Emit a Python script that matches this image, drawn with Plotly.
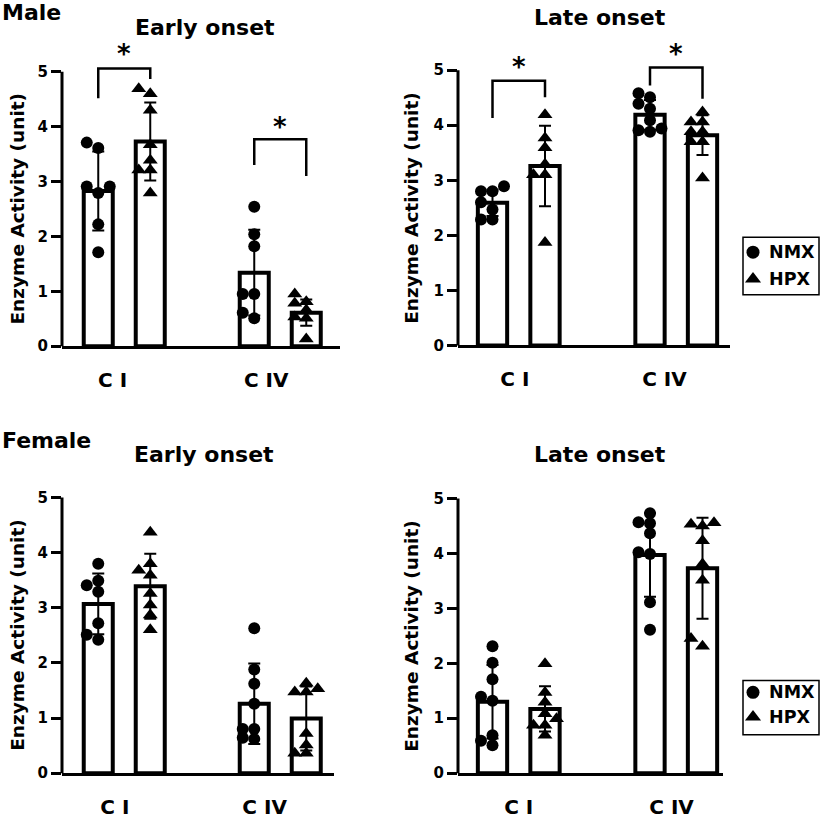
import plotly.graph_objects as go

# ---------------- data ----------------
categories = ["C I", "C IV"]
groups = ["NMX", "HPX"]

# Male, early onset
male_early_nmx_ci = [3.71, 3.61, 2.91, 2.91, 2.79, 2.22, 1.71]
male_early_hpx_ci = [4.60, 4.69, 4.30, 3.67, 3.39, 3.21, 3.21, 2.79]
male_early_nmx_civ = [2.54, 2.04, 1.82, 0.95, 0.95, 0.61, 0.51]
male_early_hpx_civ = [0.95, 0.78, 0.81, 0.66, 0.53, 0.51, 0.13]
male_early_nmx_mean = [2.83, 1.34]
male_early_nmx_sd = [0.72, 0.78]
male_early_hpx_mean = [3.73, 0.61]
male_early_hpx_sd = [0.71, 0.24]

# Male, late onset
male_late_nmx_ci = [2.89, 2.80, 2.80, 2.60, 2.47, 2.29, 2.29]
male_late_hpx_ci = [4.19, 3.77, 3.59, 3.29, 3.10, 3.10, 1.87]
male_late_nmx_civ = [4.51, 4.58, 4.39, 4.30, 4.09, 3.88, 3.91, 3.94]
male_late_hpx_civ = [4.24, 4.06, 4.06, 3.88, 3.88, 3.70, 3.70, 3.04]
male_late_nmx_mean = [2.59, 4.19]
male_late_nmx_sd = [0.24, 0.27]
male_late_hpx_mean = [3.26, 3.82]
male_late_hpx_sd = [0.73, 0.36]

# Female, early onset
female_early_nmx_ci = [3.80, 3.49, 3.41, 3.29, 2.72, 2.51, 2.42]
female_early_hpx_ci = [4.37, 3.80, 3.68, 3.59, 3.26, 3.05, 2.87, 2.60]
female_early_nmx_civ = [2.63, 1.88, 1.62, 1.26, 0.80, 0.80, 0.64, 0.62]
female_early_hpx_civ = [1.63, 1.53, 1.47, 1.47, 0.72, 0.51, 0.36, 0.36]
female_early_nmx_mean = [3.07, 1.26]
female_early_nmx_sd = [0.55, 0.73]
female_early_hpx_mean = [3.39, 0.99]
female_early_hpx_sd = [0.59, 0.58]

# Female, late onset
female_late_nmx_ci = [2.31, 2.01, 1.71, 1.39, 1.32, 0.69, 0.59, 0.51]
female_late_hpx_ci = [1.99, 1.47, 1.29, 1.08, 0.99, 0.87, 0.87, 0.69]
female_late_nmx_civ = [4.73, 4.57, 4.55, 4.37, 4.02, 3.99, 3.11, 2.61]
female_late_hpx_civ = [4.56, 4.53, 4.50, 4.23, 3.81, 3.51, 2.45, 2.31]
female_late_nmx_mean = [1.30, 3.97]
female_late_nmx_sd = [0.67, 0.76]
female_late_hpx_mean = [1.17, 3.73]
female_late_hpx_sd = [0.41, 0.92]

y_ticks = [0, 1, 2, 3, 4, 5]
y_title = "Enzyme Activity (unit)"

# ---------------- layout geometry ----------------
W, H = 827, 822
FONT = "DejaVu Sans"
YMAX = 5.8
OFF = 1 / 6          # half distance between the two bars of a group
BAR_W = 0.186

panels = [
    dict(title="Early onset", axis_px=62, ci_px=124.25, ppx=156, y0=350, ppy=55.47, end_px=340,
         title_xy=(205, 28), ytitle_x=17.5, tickvals=[-0.075, 0.91],
         pts=[[male_early_nmx_ci, male_early_nmx_civ], [male_early_hpx_ci, male_early_hpx_civ]],
         mean=[male_early_nmx_mean, male_early_hpx_mean], sd=[male_early_nmx_sd, male_early_hpx_sd],
         brackets=[(0, 4.52, 5.06, 4.87, 5.41), (1, 3.30, 3.77, 3.10, 4.09)]),
    dict(title="Late onset", axis_px=458, ci_px=518.75, ppx=157.5, y0=349.3, ppy=55.67, end_px=730,
         title_xy=(600, 18), ytitle_x=412, tickvals=[-0.025, 0.925],
         pts=[[male_late_nmx_ci, male_late_nmx_civ], [male_late_hpx_ci, male_late_hpx_civ]],
         mean=[male_late_nmx_mean, male_late_hpx_mean], sd=[male_late_nmx_sd, male_late_hpx_sd],
         brackets=[(0, 4.13, 4.81, 4.51, 5.15), (1, 4.72, 5.05, 4.48, 5.38)]),
    dict(title="Early onset", axis_px=62, ci_px=124.25, ppx=156, y0=781.7, ppy=55.73, end_px=334,
         title_xy=(204, 460), ytitle_x=17.5, tickvals=[-0.06, 0.9],
         pts=[[female_early_nmx_ci, female_early_nmx_civ], [female_early_hpx_ci, female_early_hpx_civ]],
         mean=[female_early_nmx_mean, female_early_hpx_mean], sd=[female_early_nmx_sd, female_early_hpx_sd],
         brackets=[]),
    dict(title="Late onset", axis_px=458, ci_px=518.75, ppx=157.5, y0=781.7, ppy=55.53, end_px=723,
         title_xy=(600, 460), ytitle_x=412, tickvals=[0.0, 0.97],
         pts=[[female_late_nmx_ci, female_late_nmx_civ], [female_late_hpx_ci, female_late_hpx_civ]],
         mean=[female_late_nmx_mean, female_late_hpx_mean], sd=[female_late_nmx_sd, female_late_hpx_sd],
         brackets=[]),
]

symbols = ["circle", "triangle-up"]
msizes = [12, 13]


def swarm(values, ppx, ppy, step=11.5, diam=8.0):
    order = sorted(range(len(values)), key=lambda i: values[i])
    placed = []
    offs = [0.0] * len(values)
    cands = [0.0]
    for j in range(1, 6):
        cands += [-j * step, j * step]
    for i in order:
        y = values[i] * ppy
        for c in cands:
            if all((c - px) ** 2 + (y - py) ** 2 >= diam ** 2 for px, py in placed):
                offs[i] = c / ppx
                placed.append((c, y))
                break
    return offs


fig = go.Figure()
annotations = []
shapes = []
layout_axes = {}

for k, p in enumerate(panels):
    n = "" if k == 0 else str(k + 1)
    xa, ya = "x" + n, "y" + n
    xr = [(p["axis_px"] - p["ci_px"]) / p["ppx"], (p["end_px"] - p["ci_px"]) / p["ppx"]]
    top_px = p["y0"] - YMAX * p["ppy"]
    layout_axes["xaxis" + n] = dict(
        domain=[p["axis_px"] / W, p["end_px"] / W], range=xr, anchor=ya,
        showline=True, linewidth=3, linecolor="black", ticks="",
        tickmode="array", tickvals=p["tickvals"], ticktext=categories,
        tickfont=dict(family=FONT, size=20, color="black", weight="bold"),
        ticklabelstandoff=14, showgrid=False, zeroline=False, fixedrange=True)
    layout_axes["yaxis" + n] = dict(
        domain=[1 - p["y0"] / H, 1 - top_px / H], range=[0, YMAX], anchor=xa,
        showline=False, ticks="outside", ticklen=10, tickwidth=3, tickcolor="black",
        tickmode="array", tickvals=y_ticks,
        tickfont=dict(family=FONT, size=15, color="black", weight="bold"),
        showgrid=False, zeroline=False, fixedrange=True)

    # y axis line (0..5 only)
    shapes.append(dict(type="line", xref=xa + " domain", yref=ya + " domain",
                       x0=0, x1=0, y0=0, y1=5 / YMAX, line=dict(color="black", width=3)))

    # bars with SD error bars
    for g in range(2):
        xs = [c - OFF if g == 0 else c + OFF for c in range(len(categories))]
        fig.add_trace(go.Bar(
            x=xs, y=p["mean"][g], width=BAR_W, xaxis=xa, yaxis=ya,
            marker=dict(color="white", line=dict(color="black", width=4)),
            error_y=dict(type="data", array=p["sd"][g], color="black", thickness=2, width=6),
            showlegend=False, name=groups[g]))
    # individual points
    for g in range(2):
        for c in range(len(categories)):
            vals = p["pts"][g][c]
            center = c - OFF if g == 0 else c + OFF
            offs = swarm(vals, p["ppx"], p["ppy"])
            fig.add_trace(go.Scatter(
                x=[center + o for o in offs], y=vals, mode="markers", xaxis=xa, yaxis=ya,
                marker=dict(symbol=symbols[g], size=msizes[g], color="black"),
                cliponaxis=False, showlegend=False, name=groups[g]))
    # significance brackets
    for (c, yl, yt, yr, ys) in p["brackets"]:
        fig.add_trace(go.Scatter(
            x=[c - OFF, c - OFF, c + OFF, c + OFF], y=[yl, yt, yt, yr], mode="lines",
            xaxis=xa, yaxis=ya, line=dict(color="black", width=2.5),
            showlegend=False, hoverinfo="skip"))
        annotations.append(dict(x=c, y=ys, xref=xa, yref=ya, text="*", showarrow=False,
                                yshift=-5, font=dict(family=FONT, size=26, color="black", weight="bold")))

    # panel title
    annotations.append(dict(x=p["title_xy"][0] / W, y=1 - p["title_xy"][1] / H, xref="paper", yref="paper",
                            text=p["title"], showarrow=False, xanchor="center", yanchor="middle",
                            font=dict(family=FONT, size=22, color="black", weight="bold")))
    # y axis title
    annotations.append(dict(x=p["ytitle_x"] / W, y=2.5, xref="paper", yref=ya, text=y_title,
                            textangle=-90, showarrow=False, xanchor="center", yanchor="middle",
                            font=dict(family=FONT, size=18.5, color="black", weight="bold")))

# row labels
annotations.append(dict(x=0, y=1 - 13 / H, xref="paper", yref="paper", text="Male", showarrow=False,
                        xanchor="left", yanchor="middle", font=dict(family=FONT, size=22, color="black", weight="bold")))
annotations.append(dict(x=0, y=1 - 445 / H, xref="paper", yref="paper", text="Female", showarrow=False,
                        xanchor="left", yanchor="middle", font=dict(family=FONT, size=22, color="black", weight="bold")))

# legends (drawn on a full-figure overlay axis in pixel units)
layout_axes["xaxis5"] = dict(domain=[0, 1], range=[0, W], visible=False, fixedrange=True, anchor="y5")
layout_axes["yaxis5"] = dict(domain=[0, 1], range=[H, 0], visible=False, fixedrange=True, anchor="x5")
legend_boxes = [(743, 240, 819, 298, 255, 282), (743, 688, 819, 743, 700, 725)]
for (bx0, by0, bx1, by1, ry1, ry2) in legend_boxes:
    shapes.append(dict(type="rect", xref="paper", yref="paper", x0=bx0 / W, x1=bx1 / W,
                       y0=1 - by0 / H, y1=1 - by1 / H, line=dict(color="black", width=1.5)))
    for g, ry in enumerate([ry1, ry2]):
        fig.add_trace(go.Scatter(x=[753], y=[ry], mode="markers", xaxis="x5", yaxis="y5",
                                 marker=dict(symbol=symbols[g], size=13 if g == 0 else 14, color="black"),
                                 showlegend=False, hoverinfo="skip", cliponaxis=False))
        annotations.append(dict(x=767 / W, y=1 - ry / H, xref="paper", yref="paper", text=groups[g],
                                showarrow=False, xanchor="left", yanchor="middle",
                                font=dict(family=FONT, size=17.5, color="black", weight="bold")))

fig.update_layout(
    width=W, height=H, margin=dict(l=0, r=0, t=0, b=0),
    paper_bgcolor="white", plot_bgcolor="rgba(0,0,0,0)",
    barmode="overlay", showlegend=False,
    annotations=annotations, shapes=shapes,
    **layout_axes)

fig.write_html("out.html", config={"displayModeBar": False},
               post_script="document.body.style.margin='0';")
